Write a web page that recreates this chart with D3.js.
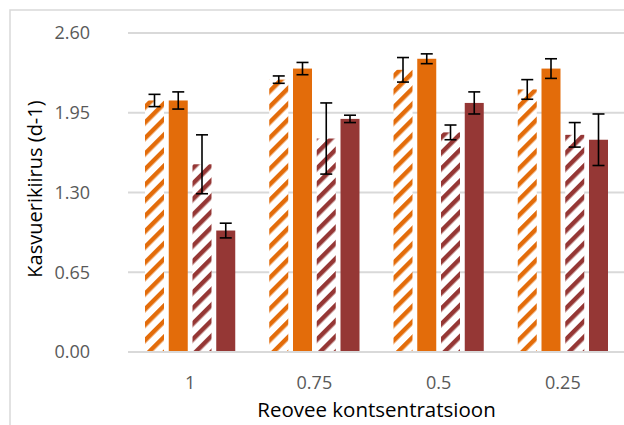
<!DOCTYPE html>
<html>
<head>
<meta charset="utf-8">
<script src="https://cdn.jsdelivr.net/npm/d3@7"></script>
<style>
  body { margin: 0; background: #fff; }
  text { font-family: "Open Sans", "Noto Sans", sans-serif; }
</style>
</head>
<body>
<div id="chart"></div>
<script>
// categories (x axis) and series values
var categories = ["1", "0.75", "0.5", "0.25"];
var seriesNames = ["oranž viirutatud", "oranž", "punane viirutatud", "punane"];
var orangeHatch = [2.05, 2.22, 2.30, 2.14];
var orangeHatchErr = [0.05, 0.03, 0.10, 0.08];
var orangeSolid = [2.05, 2.31, 2.39, 2.31];
var orangeSolidErr = [0.07, 0.05, 0.04, 0.08];
var redHatch = [1.53, 1.74, 1.79, 1.77];
var redHatchErr = [0.24, 0.29, 0.06, 0.10];
var redSolid = [0.99, 1.90, 2.03, 1.73];
var redSolidErr = [0.06, 0.03, 0.09, 0.21];
var yTicks = [0, 0.65, 1.30, 1.95, 2.60];

window.onload = function () {
  var width = 624, height = 425;
  var orange = "#e36c0a", red = "#953735";

  var svg = d3.select("#chart").append("svg")
    .attr("width", width)
    .attr("height", height);

  // hatch patterns (wide upward diagonal)
  var defs = svg.append("defs");
  [["hatchOrange", orange], ["hatchRed", red]].forEach(function (p) {
    var pat = defs.append("pattern")
      .attr("id", p[0])
      .attr("patternUnits", "userSpaceOnUse")
      .attr("width", 11)
      .attr("height", 11)
      .attr("patternTransform", "rotate(45)");
    pat.append("rect").attr("width", 11).attr("height", 11).attr("fill", "#fff");
    pat.append("rect").attr("width", 4.5).attr("height", 11).attr("fill", p[1]);
  });

  // chart border
  svg.append("rect")
    .attr("x", 10).attr("y", 10)
    .attr("width", 700).attr("height", 500)
    .attr("fill", "none")
    .attr("stroke", "#d9d9d9")
    .attr("stroke-width", 1.5);

  var plotLeft = 128, plotRight = 625, plotTop = 33, plotBottom = 352;

  var y = d3.scaleLinear().domain([0, 2.6]).range([plotBottom, plotTop]);
  var x0 = d3.scaleBand().domain(categories).range([plotLeft, plotRight]);
  var x1 = d3.scaleBand().domain(seriesNames)
    .range([17, x0.bandwidth() - 17])
    .paddingInner(0.2);

  // gridlines
  svg.append("g")
    .selectAll("line")
    .data(yTicks)
    .enter().append("line")
    .attr("x1", plotLeft).attr("x2", plotRight)
    .attr("y1", function (d) { return y(d); })
    .attr("y2", function (d) { return y(d); })
    .attr("stroke", "#d9d9d9")
    .attr("stroke-width", 2);

  // y tick labels
  svg.append("g")
    .selectAll("text")
    .data(yTicks)
    .enter().append("text")
    .attr("x", 90)
    .attr("y", function (d) { return y(d); })
    .attr("dy", "0.35em")
    .attr("text-anchor", "end")
    .attr("fill", "#595959")
    .attr("font-size", 18)
    .text(function (d) { return d3.format(".2f")(d); });

  // x tick labels
  svg.append("g")
    .selectAll("text")
    .data(categories)
    .enter().append("text")
    .attr("x", function (d) { return x0(d) + x0.bandwidth() / 2; })
    .attr("y", 389)
    .attr("text-anchor", "middle")
    .attr("fill", "#595959")
    .attr("font-size", 18)
    .text(function (d) { return d; });

  // axis titles
  svg.append("text")
    .attr("x", (plotLeft + plotRight) / 2)
    .attr("y", 417)
    .attr("text-anchor", "middle")
    .attr("fill", "#000")
    .attr("font-size", 20.5)
    .text("Reovee kontsentratsioon");

  svg.append("text")
    .attr("transform", "translate(42," + 189 + ") rotate(-90)")
    .attr("text-anchor", "middle")
    .attr("fill", "#000")
    .attr("font-size", 20)
    .text("Kasvuerikiirus (d-1)");

  var series = [
    { name: seriesNames[0], values: orangeHatch, err: orangeHatchErr, fill: "url(#hatchOrange)" },
    { name: seriesNames[1], values: orangeSolid, err: orangeSolidErr, fill: orange },
    { name: seriesNames[2], values: redHatch, err: redHatchErr, fill: "url(#hatchRed)" },
    { name: seriesNames[3], values: redSolid, err: redSolidErr, fill: red }
  ];

  var rows = [];
  series.forEach(function (s) {
    categories.forEach(function (c, i) {
      rows.push({ series: s.name, cat: c, value: s.values[i], err: s.err[i], fill: s.fill });
    });
  });

  // bars
  svg.append("g")
    .selectAll("rect")
    .data(rows)
    .enter().append("rect")
    .attr("x", function (d) { return x0(d.cat) + x1(d.series); })
    .attr("y", function (d) { return y(d.value); })
    .attr("width", x1.bandwidth())
    .attr("height", function (d) { return y(0) - y(d.value); })
    .attr("fill", function (d) { return d.fill; });

  // baseline
  svg.append("line")
    .attr("x1", plotLeft).attr("x2", plotRight)
    .attr("y1", y(0)).attr("y2", y(0))
    .attr("stroke", "#d9d9d9")
    .attr("stroke-width", 2);

  // error bars
  var eb = svg.append("g").attr("stroke", "#000").attr("stroke-width", 1.6);
  rows.forEach(function (d) {
    var cx = x0(d.cat) + x1(d.series) + x1.bandwidth() / 2;
    var yt = y(d.value + d.err), yb = y(d.value - d.err);
    eb.append("line").attr("x1", cx).attr("x2", cx).attr("y1", yt).attr("y2", yb);
    eb.append("line").attr("x1", cx - 6).attr("x2", cx + 6).attr("y1", yt).attr("y2", yt);
    eb.append("line").attr("x1", cx - 6).attr("x2", cx + 6).attr("y1", yb).attr("y2", yb);
  });
}
</script>
</body>
</html>
